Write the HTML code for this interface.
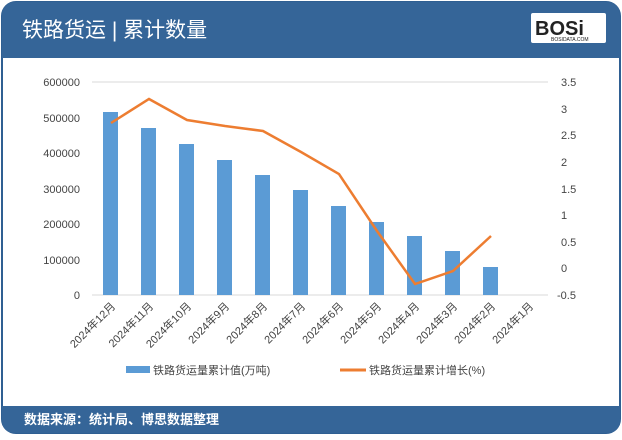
<!DOCTYPE html><html><head><meta charset="utf-8"><style>
body{margin:0;width:622px;height:435px;background:#fff;overflow:hidden;font-family:"Liberation Sans","Noto Sans CJK SC",sans-serif}
</style></head><body>
<svg width="622" height="435" xmlns="http://www.w3.org/2000/svg" font-family="Liberation Sans, Noto Sans CJK SC, sans-serif">
<rect x="2" y="2" width="618" height="431" rx="14" fill="#fff" stroke="#2f5f92" stroke-width="2"/>
<path d="M2 58 V16 Q2 2 16 2 H606 Q620 2 620 16 V58 Z" fill="#356598"/>
<text x="22" y="37" font-size="21" fill="#fff">铁路货运 | 累计数量</text>
<rect x="531" y="13" width="75" height="30" fill="#fff" rx="2"/>
<text x="535" y="35" font-size="20" font-weight="bold" fill="#222">BOSi</text>
<text x="551" y="41" font-size="5" fill="#222">BOSIDATA.COM</text>
<path d="M2 406 H620 V420 Q620 433 606 433 H16 Q2 433 2 420 Z" fill="#356598"/>
<text x="24" y="424" font-size="13" fill="#fff" font-weight="bold">数据来源：统计局、博思数据整理</text>
<g stroke="#d9d9d9" stroke-width="1">
<line x1="92" y1="82" x2="548" y2="82"/>
<line x1="92" y1="295" x2="548" y2="295"/>
</g>
<g font-size="11" fill="#444" text-anchor="end">
<text x="80" y="86">600000</text><text x="80" y="122">500000</text><text x="80" y="157">400000</text><text x="80" y="193">300000</text><text x="80" y="228">200000</text><text x="80" y="264">100000</text><text x="80" y="299">0</text>
</g>
<g font-size="11" fill="#444" text-anchor="start">
<text x="561" y="86">3.5</text><text x="561" y="113">3</text><text x="561" y="139">2.5</text><text x="561" y="166">2</text><text x="561" y="193">1.5</text><text x="561" y="219">1</text><text x="561" y="246">0.5</text><text x="561" y="272">0</text><text x="557" y="299">-0.5</text>
</g>
<g fill="#5b9bd5">
<rect x="103" y="112" width="15" height="183"/>
<rect x="141" y="128" width="15" height="167"/>
<rect x="179" y="144" width="15" height="151"/>
<rect x="217" y="160" width="15" height="135"/>
<rect x="255" y="175" width="15" height="120"/>
<rect x="293" y="190" width="15" height="105"/>
<rect x="331" y="206" width="15" height="89"/>
<rect x="369" y="222" width="15" height="73"/>
<rect x="407" y="236" width="15" height="59"/>
<rect x="445" y="251" width="15" height="44"/>
<rect x="483" y="267" width="15" height="28"/>
</g>
<polyline fill="none" stroke="#ed7d31" stroke-width="2.5" points="111,123 149,99 187,120 225,126 263,131 301,152 339,174 377,231 415,284 453,271 491,236"/>
<g font-size="11" fill="#444" text-anchor="end">
<text transform="translate(116,307) rotate(-45)">2024年12月</text>
<text transform="translate(154,307) rotate(-45)">2024年11月</text>
<text transform="translate(192,307) rotate(-45)">2024年10月</text>
<text transform="translate(230,307) rotate(-45)">2024年9月</text>
<text transform="translate(268,307) rotate(-45)">2024年8月</text>
<text transform="translate(306,307) rotate(-45)">2024年7月</text>
<text transform="translate(344,307) rotate(-45)">2024年6月</text>
<text transform="translate(382,307) rotate(-45)">2024年5月</text>
<text transform="translate(420,307) rotate(-45)">2024年4月</text>
<text transform="translate(458,307) rotate(-45)">2024年3月</text>
<text transform="translate(496,307) rotate(-45)">2024年2月</text>
<text transform="translate(534,307) rotate(-45)">2024年1月</text>
</g>
<rect x="126" y="366" width="24" height="7" fill="#5b9bd5"/>
<text x="153" y="374" font-size="11" fill="#444">铁路货运量累计值(万吨)</text>
<line x1="340" y1="370" x2="366" y2="370" stroke="#ed7d31" stroke-width="3"/>
<text x="369" y="374" font-size="11" fill="#444">铁路货运量累计增长(%)</text>
</svg>
</body></html>
